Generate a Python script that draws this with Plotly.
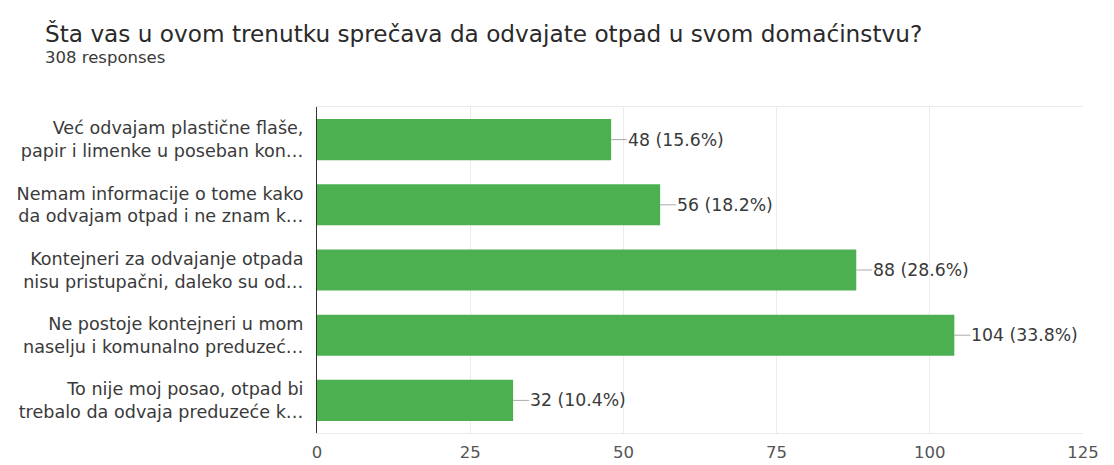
import plotly.graph_objects as go

categories = [
    "Već odvajam plastične flaše,<br>papir i limenke u poseban kon…",
    "Nemam informacije o tome kako<br>da odvajam otpad i ne znam k…",
    "Kontejneri za odvajanje otpada<br>nisu pristupačni, daleko su od…",
    "Ne postoje kontejneri u mom<br>naselju i komunalno preduzeć…",
    "To nije moj posao, otpad bi<br>trebalo da odvaja preduzeće k…",
]
values = [48, 56, 88, 104, 32]
value_labels = ["48 (15.6%)", "56 (18.2%)", "88 (28.6%)", "104 (33.8%)", "32 (10.4%)"]
tick_vals = [0, 25, 50, 75, 100, 125]
title_text = "Šta vas u ovom trenutku sprečava da odvajate otpad u svom domaćinstvu?"
subtitle_text = "308 responses"

OFF = 8  # browser body margin
W, H = 1114 - OFF, 465 - OFF
L, R, T, B = 317 - OFF, 31, 107 - OFF, 32
PW, PH = W - L - R, H - T - B

FONT = "DejaVu Sans, Verdana, sans-serif"

fig = go.Figure()
fig.add_trace(go.Bar(
    x=values, y=categories, orientation="h",
    marker=dict(color="#4caf50", line=dict(width=0)),
    hoverinfo="skip",
))

annotations = []
for v, c, lab in zip(values, categories, value_labels):
    annotations.append(dict(
        x=v, y=c, xref="x", yref="y", text=lab,
        showarrow=True, arrowhead=0, arrowwidth=1, arrowcolor="#aaaaaa",
        ax=16, ay=0, xanchor="left", yanchor="middle",
        font=dict(family=FONT, size=17.3, color="#3a3a3a"),
        standoff=0, startstandoff=0, borderpad=0,
    ))


def paper_pos(px, py):
    return (px - OFF - L) / PW, 1 - (py - OFF - T) / PH


tx, ty = paper_pos(44, 33)
annotations.append(dict(
    x=tx, y=ty, xref="paper", yref="paper", showarrow=False,
    text=title_text, xanchor="left", yanchor="middle", borderpad=0,
    font=dict(family=FONT, size=23.2, color="#2a2a2a"),
))
sx, sy = paper_pos(44, 58)
annotations.append(dict(
    x=sx, y=sy, xref="paper", yref="paper", showarrow=False,
    text=subtitle_text, xanchor="left", yanchor="middle", borderpad=0,
    font=dict(family=FONT, size=16.5, color="#3a3a3a"),
))

fig.update_layout(
    width=W, height=H,
    margin=dict(l=L, r=R, t=T, b=B, pad=0, autoexpand=False),
    plot_bgcolor="white", paper_bgcolor="white",
    showlegend=False,
    bargap=0.37,
    font=dict(family=FONT, size=17, color="#3a3a3a"),
    annotations=annotations,
    xaxis=dict(
        range=[0, 125], tickvals=tick_vals, automargin=False,
        showgrid=True, gridcolor="#ebebeb", gridwidth=1,
        zeroline=False, showline=True, linecolor="#ebebeb", linewidth=1, mirror=True,
        tickfont=dict(family=FONT, size=16.5, color="#555555"), ticks="", ticklabelstandoff=4,
        fixedrange=True,
    ),
    yaxis=dict(
        autorange="reversed", showgrid=False, zeroline=False, automargin=False,
        showline=True, linecolor="#333333", linewidth=1,
        ticks="", ticklabelstandoff=9,
        tickfont=dict(family=FONT, size=17.6, color="#3a3a3a"),
        fixedrange=True,
    ),
)

fig.write_html("out.html")
